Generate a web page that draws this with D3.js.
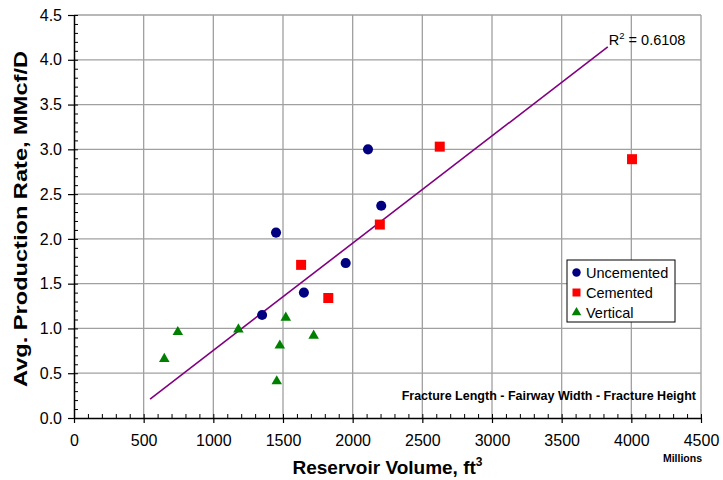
<!DOCTYPE html>
<html>
<head>
<meta charset="utf-8">
<script src="https://cdn.jsdelivr.net/npm/d3@7"></script>
<style>
  html, body { margin: 0; padding: 0; background: #fff; }
  svg { display: block; font-family: Arial, "Liberation Sans", sans-serif; }
</style>
</head>
<body>
<svg id="chart" width="723" height="480"></svg>
<script>
// Reservoir volume (millions ft^3) vs average production rate (MMcf/D)
const uncementedVolume = [1350, 1650, 1950, 1450, 2110, 2205];
const uncementedRate   = [1.15, 1.40, 1.73, 2.07, 3.00, 2.37];

const cementedVolume = [1630, 1825, 2195, 2625, 4005];
const cementedRate   = [1.71, 1.34, 2.16, 3.03, 2.89];

const verticalVolume = [648, 745, 1180, 1520, 1477, 1455, 1720];
const verticalRate   = [0.66, 0.96, 0.99, 1.12, 0.81, 0.41, 0.92];

// Linear trend line end points
const trendVolume = [546, 3831];
const trendRate   = [0.212, 4.144];
const trendLabel = "0.6108";

const xTicks = [0, 500, 1000, 1500, 2000, 2500, 3000, 3500, 4000, 4500];
const yTicks = [0.0, 0.5, 1.0, 1.5, 2.0, 2.5, 3.0, 3.5, 4.0, 4.5];

const svg = d3.select("#chart");
const plotLeft = 74, plotRight = 701, plotTop = 15, plotBottom = 418;

const x = d3.scaleLinear().domain([0, 4500]).range([plotLeft, plotRight]);
const y = d3.scaleLinear().domain([0, 4.5]).range([plotBottom, plotTop]);

// Grid
const grid = svg.append("g").attr("stroke", "#a0a0a0").attr("stroke-width", 1.3);
grid.selectAll(".gx").data(xTicks.slice(1)).join("line")
  .attr("x1", d => x(d)).attr("x2", d => x(d)).attr("y1", plotTop).attr("y2", plotBottom);
grid.selectAll(".gy").data(yTicks.slice(1)).join("line")
  .attr("x1", plotLeft).attr("x2", plotRight).attr("y1", d => y(d)).attr("y2", d => y(d));

// Minor ticks (inside the plot)
const xMinor = d3.range(0, 4501, 100);
const yMinor = d3.range(0, 46).map(i => i / 10);

svg.append("g").attr("transform", `translate(0,${plotBottom})`)
  .call(d3.axisBottom(x).tickValues(xMinor).tickSize(-4).tickFormat("").tickSizeOuter(0))
  .call(g => g.select(".domain").remove());
svg.append("g").attr("transform", `translate(${plotLeft},0)`)
  .call(d3.axisLeft(y).tickValues(yMinor).tickSize(-4).tickFormat("").tickSizeOuter(0))
  .call(g => g.select(".domain").remove());

// Major ticks with labels
const xAxis = svg.append("g").attr("transform", `translate(0,${plotBottom})`)
  .call(d3.axisBottom(x).tickValues(xTicks).tickSize(5).tickPadding(12).tickSizeOuter(0).tickFormat(d3.format("d")));
const yAxis = svg.append("g").attr("transform", `translate(${plotLeft},0)`)
  .call(d3.axisLeft(y).tickValues(yTicks).tickSize(6).tickPadding(6).tickSizeOuter(0).tickFormat(d3.format(".1f")));

[xAxis, yAxis].forEach(a => {
  a.selectAll("text").attr("font-size", 16).attr("fill", "#000")
    .attr("font-family", 'Arial, "Liberation Sans", sans-serif');
  a.select(".domain").attr("stroke-width", 1.5);
  a.selectAll(".tick line").attr("stroke-width", 1.2);
});
svg.selectAll(".tick line").attr("stroke", "#000");

// Trend line
const trend = trendVolume.map((v, i) => [v, trendRate[i]]);
svg.append("path")
  .datum(trend)
  .attr("fill", "none").attr("stroke", "#800080").attr("stroke-width", 1.6)
  .attr("d", d3.line().x(d => x(d[0])).y(d => y(d[1])));

const r2 = svg.append("text")
  .attr("x", x(trendVolume[1]) + 1).attr("y", 45)
  .attr("font-size", 14.5).attr("fill", "#000");
r2.append("tspan").text("R");
r2.append("tspan").attr("font-size", 9.5).attr("dy", -6).text("2");
r2.append("tspan").attr("dy", 6).text(" = " + trendLabel);

// Markers
const sym = (type, size) => d3.symbol().type(type).size(size)();
const series = [
  { name: "Uncemented", vx: uncementedVolume, vy: uncementedRate, color: "#000080", type: d3.symbolCircle, size: 80 },
  { name: "Cemented",   vx: cementedVolume,   vy: cementedRate,   color: "#ff0000", type: d3.symbolSquare, size: 100 },
  { name: "Vertical",   vx: verticalVolume,   vy: verticalRate,   color: "#008000", type: d3.symbolTriangle, size: 48 }
];

series.forEach(s => {
  svg.append("g").selectAll("path")
    .data(s.vx.map((v, i) => [v, s.vy[i]]))
    .join("path")
    .attr("transform", d => `translate(${x(d[0])},${y(d[1])})`)
    .attr("d", sym(s.type, s.size))
    .attr("fill", s.color);
});

// Legend
const legend = svg.append("g").attr("transform", "translate(567,260)");
legend.append("rect").attr("width", 108).attr("height", 62)
  .attr("fill", "#fff").attr("stroke", "#000").attr("stroke-width", 1);
series.forEach((s, i) => {
  const cy = 12.5 + i * 20;
  const msize = s.type === d3.symbolTriangle ? 40 : (s.type === d3.symbolSquare ? 64 : 56);
  legend.append("path").attr("transform", `translate(9.5,${cy})`)
    .attr("d", sym(s.type, msize)).attr("fill", s.color);
  legend.append("text").attr("x", 19).attr("y", cy + 5.2)
    .attr("font-size", 14.5).attr("fill", "#000").text(s.name);
});

// Annotation and titles
svg.append("text").attr("x", 696).attr("y", 400).attr("text-anchor", "end")
  .attr("font-size", 12.5).attr("font-weight", "bold").attr("fill", "#000")
  .text("Fracture Length - Fairway Width - Fracture Height");

svg.append("text").attr("x", 702).attr("y", 462).attr("text-anchor", "end")
  .attr("font-size", 10.5).attr("font-weight", "bold").attr("fill", "#000")
  .text("Millions");

const xt = svg.append("text").attr("x", (plotLeft + plotRight) / 2).attr("y", 474)
  .attr("text-anchor", "middle").attr("font-size", 19).attr("font-weight", "bold").attr("fill", "#000");
xt.append("tspan").text("Reservoir Volume, ft");
xt.append("tspan").attr("font-size", 12).attr("dy", -8).text("3");

svg.append("text")
  .attr("transform", "translate(27,219) rotate(-90)")
  .attr("text-anchor", "middle").attr("font-size", 19).attr("font-weight", "bold").attr("fill", "#000")
  .attr("textLength", 336).attr("lengthAdjust", "spacingAndGlyphs")
  .text("Avg. Production Rate, MMcf/D");
</script>
</body>
</html>
